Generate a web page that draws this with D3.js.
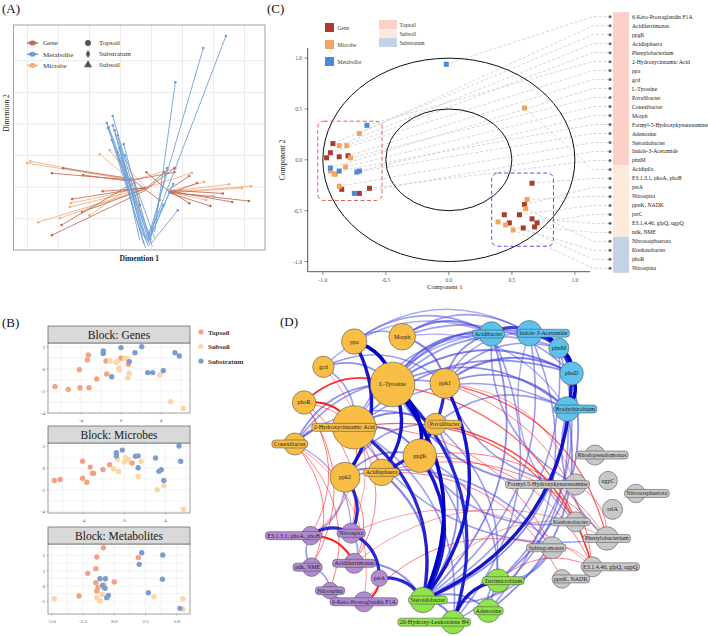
<!DOCTYPE html>
<html><head><meta charset="utf-8">
<script src="https://cdn.jsdelivr.net/npm/d3@7"></script>
<style>body{margin:0;background:#fff}svg{display:block;font-family:"Liberation Serif","Times New Roman",serif}</style>
</head><body><svg id="c" width="708" height="636"></svg>
<script>
// ================= DATA =================
// Panel A: arrow segments [x1,y1,x2,y2] (Dimention 1, Dimention 2)
const geneSegs = [[-3.21,0.44,-0.61,0.22],[-2.85,0.60,-0.55,0.25],[-2.21,0.38,-0.65,0.18],[-1.57,-0.13,-0.16,-0.03],[-2.24,-0.79,-0.20,-0.05],[-2.56,-0.38,-0.12,0.0],[-3.21,-1.52,-0.18,-0.10],[-2.9,-1.2,-0.55,0.15],[3.14,-0.44,0.58,-0.16],[2.60,-0.47,0.55,-0.12],[1.47,0.13,0.60,-0.20],[1.22,0.35,0.52,-0.10],[1.22,-0.51,0.62,-0.14],[0.74,0.47,-0.61,0.22],[0.42,0.47,-0.16,-0.03],[-0.16,0.47,0.58,-0.16],[-0.38,-0.57,-0.58,0.20],[0.26,-0.41,-0.62,0.24],[0.74,0.60,-0.14,-0.05],[1.9,-0.6,0.56,-0.18],[2.3,-0.2,0.6,-0.1]];
const microbeSegs = [[-4.01,0.76,-0.61,0.22],[-3.91,0.82,-0.58,0.2],[-1.67,1.04,-0.64,0.2],[-2.63,-0.63,-0.16,-0.03],[-2.60,-0.51,-0.2,0.0],[-3.65,-1.11,-0.14,-0.05],[-2.95,-0.98,-0.18,-0.02],[-1.35,1.17,-0.6,0.24],[3.21,0.03,0.58,-0.16],[2.50,0.09,0.56,-0.14],[2.92,-0.03,0.6,-0.18],[1.76,-0.41,0.55,-0.15],[1.70,0.16,0.62,-0.12],[2.02,-0.28,0.57,-0.2],[0.77,0.60,-0.61,0.22],[-1.03,0.85,-0.16,-0.03],[-2.0,-0.9,-0.5,0.15],[1.3,0.45,-0.1,0.0]];
const metabSegs = [[2.40,4.78,-0.06,-1.52],[1.67,4.40,-0.13,-1.68],[0.77,3.32,0.10,-1.42],[-1.25,2.25,-0.06,-1.84],[-1.44,2.03,-0.16,-1.74],[-1.38,1.90,0.0,-1.68],[-1.25,1.96,-0.22,-1.61],[-1.19,1.80,-0.1,-1.87],[-0.90,1.36,-0.03,-1.77],[-1.09,1.65,-0.29,-1.55],[-1.28,1.49,-0.19,-1.93],[-1.41,1.87,0.03,-1.87],[-1.03,1.23,-0.38,-1.68],[-0.86,1.01,0.10,-1.61],[-1.1,1.1,-0.25,-1.8],[0.58,-0.16,-0.03,-1.58],[0.85,-0.73,0.0,-1.77],[0.38,-0.57,-0.19,-1.61],[0.7,0.1,-0.1,-1.7],[0.5,0.6,-0.05,-1.65]];
const blockNames = ["Gene","Metabolite","Microbe"];
const layerNames = ["Topsoil","Substratum","Subsoil"];

// Panel B: sample scores [x,y]
const genesTop = [[-6.6,-1.6],[-5.27,-1.85],[-4.1,-1.7],[-3.2,-1.7],[-2.43,-0.9],[-4.17,-0.06],[-3.27,1.27],[-3.37,0.82],[-1.5,0.73],[-1.43,-0.45],[0,0.97],[0.73,0.42]];
const genesSub = [[-1.1,0.73],[-0.5,0.6],[-0.37,0.67],[-0.2,0.12],[-0.2,-0.09],[0.67,-0.79],[0.83,-0.39],[0.4,0.97],[3.9,-0.55],[4.97,-2.97],[6.23,-3.58],[0.67,0.9]];
const genesStr = [[-1.77,1.64],[-1.77,1.4],[0,1.94],[0.83,0.67],[1.4,1.48],[2.07,2.03],[-0.93,-0.7],[2.67,-0.33],[3.17,-0.33],[4.23,-0.15],[5.4,1.48],[5.83,1.18]];
const microTop = [[-6.83,-1.14],[-6.27,-1.05],[-4.08,0.62],[-4.08,-0.93],[-3.66,-1.3],[-3.33,0.09],[-3.1,-0.47],[-3.0,-0.5],[-2.09,-0.12],[-1.44,0.31],[0.75,0.47]];
const microSub = [[-1.05,-0.06],[-0.56,-0.31],[-0.65,0.78],[0.1,0.97],[0,0.56],[0.42,0.78],[1.63,0.62],[1.34,-0.77],[3.2,-1.98],[3.85,-1.61],[5.75,-3.78]];
const microStr = [[-0.78,1.4],[-0.78,1.11],[-0.2,1.65],[1.08,1.09],[1.34,1.12],[1.34,0.03],[3.04,0.93],[3.37,-0.3],[3.6,-0.15],[3.85,-1.14],[5.33,2.02],[5.49,0.62]];
const metabTop = [[-0.87,2.5],[-1.4,1.9],[-1.48,1.13],[-2.12,0.83],[-1.48,0.22],[-1.4,-0.33],[-1.3,-0.1],[-2.82,-0.65],[0,0.26],[1.93,1.85]];
const metabSub = [[-4.79,-0.83],[-1.4,-0.76],[-1.14,-0.98],[-0.95,-0.54],[-1.0,-0.05],[-0.8,0.1],[3.18,-0.7],[5.48,-0.83],[5.48,-1.52]];
const metabStr = [[-1.14,0.48],[-0.71,0.48],[-0.92,0.04],[-0.74,-0.15],[-0.47,-0.61],[-0.6,-0.76],[2.2,2.18],[2.0,1.42],[3.88,2.03],[3.85,0.44],[2.73,-0.44],[5.26,-1.46]];
const bLayers = ["Topsoil","Subsoil","Substratum"];

// Panel C: correlation circle
const compLabels = ["6-Keto-Prostaglandin F1A","Acidiferrimonas","ppgK","Acidisphaera","Phenylobacterium","2-Hydroxycinnamic Acid","ppa","gcd","L-Tyrosine","Povalibacter","Conexibacter","Morph","Formyl-5-Hydroxykynurenamine","Adenosine","Steroidobacter","Indole-3-Acetamide","phnM","Acidipila","E3.1.3.1, phoA, phoB","pstA","Nitrospira","ppnK, NADK","pstC","E3.1.4.46, glpQ, ugpQ","ndk, NME","Nitrososphaerota","Ktedonobacter","phoR","Nitrospina"];
const compLayer = ["Topsoil","Topsoil","Topsoil","Topsoil","Topsoil","Topsoil","Topsoil","Topsoil","Topsoil","Topsoil","Topsoil","Topsoil","Topsoil","Topsoil","Topsoil","Topsoil","Topsoil","Subsoil","Subsoil","Subsoil","Subsoil","Subsoil","Subsoil","Subsoil","Subsoil","Substratum","Substratum","Substratum","Substratum"];
const compType = ["Metabolite","Microbe","Gene","Microbe","Microbe","Metabolite","Gene","Gene","Metabolite","Microbe","Microbe","Metabolite","Metabolite","Metabolite","Microbe","Metabolite","Gene","Microbe","Gene","Gene","Microbe","Gene","Gene","Gene","Gene","Microbe","Microbe","Gene","Microbe"];
const comp1 = [-0.02,-0.71,-0.92,-0.87,-0.81,-0.65,-0.94,-0.80,-0.94,-0.78,-0.82,-0.71,-0.87,-0.73,-0.87,-0.75,-0.63,0.60,0.66,0.60,0.62,0.56,0.70,0.66,0.68,0.61,0.39,0.59,0.51];
const comp2 = [0.94,0.26,0.16,0.14,0.14,0.34,0.07,0.04,-0.08,0.02,-0.07,-0.11,-0.11,-0.12,-0.26,-0.33,-0.28,0.51,-0.23,-0.44,-0.39,-0.54,-0.62,-0.58,-0.66,-0.48,-0.61,-0.67,-0.69];
const extraType = ["Microbe","Microbe","Microbe","Gene","Gene","Gene","Gene","Gene","Gene","Microbe"];
const extra1 = [-0.94,-0.91,-0.90,-0.87,-0.97,-0.85,-0.71,0.44,0.48,0.45];
const extra2 = [-0.11,-0.14,-0.14,0.03,0.02,-0.29,-0.33,-0.54,-0.62,-0.64];
const compTicks = [-1.0,-0.5,0.0,0.5,1.0];
const clusterBoxes = [{x0:-1.04,x1:-0.53,y0:-0.40,y1:0.38,color:"#E06060"},{x0:0.34,x1:0.83,y0:-0.85,y1:-0.13,color:"#5555EE"}];

// Panel D: network nodes [id, label, group, layoutX, layoutY, degree]
const netNodes = [
 ["ppa","ppa","o",19.6,14.9,16.2],["Morph","Morph","o",30.5,13.5,17.8],["gcd","gcd","o",12.6,22.2,11.5],
 ["LTyr","L-Tyrosine","o",28.3,27.3,50],["ppk1","ppk1","o",40.2,27.0,22.6],["phoR","phoR","o",8.2,32.5,13.8],
 ["HCA","2-Hydroxycinnamic Acid","o",19.6,39.7,47.3],["Poval","Povalibacter","o",38.1,38.8,12.2],["Conex","Conexibacter","o",6.1,44.5,12.2],
 ["ppgK","ppgK","o",34.5,47.9,28.0],["Acidis","Acidisphaera","o",25.8,52.7,17.8],["ppk2","ppk2","o",17.5,54.1,22.6],
 ["Acidib","Acidibacter","b",50.8,12.7,15.2],["Indole","Indole-3-Acetamide","b",59.4,12.5,16.2],["phnM","phnM","b",66.1,16.8,10.1],
 ["phoD","phoD","b",69.0,24.1,13.8],["Brady","Bradyrhizobium","b",68.0,34.4,15.2],
 ["Rhodo","Rhodopseudomonas","g",74.3,47.7,10.1],["Formyl","Formyl-5-Hydroxykynurenamine","g",69.9,56.2,11.5],["ugpC","ugpC","g",77.3,55.1,8.7],
 ["Nitrosos","Nitrososphaerota","g",83.6,58.8,8.7],["relA","relA","g",78.3,63.4,10.1],["Kted","Ktedonobacter","g",69.9,67.0,10.1],
 ["Phenyl","Phenylobacterium","g",77.0,71.8,13.8],["Sphingo","Sphingomonas","g",64.6,74.5,12.2],["E3146","E3.1.4.46, glpQ, ugpQ","g",73.7,80.0,10.1],
 ["ppnK","ppnK, NADK","g",66.8,83.5,8.7],
 ["Terri","Terrimicrobium","l",52.3,84.0,13.8],["Adeno","Adenosine","l",50.1,92.7,13.8],["Steroid","Steroidobacter","l",35.2,89.6,16.2],
 ["HLB4","20-Hydroxy-Leukotriene B4","l",42.1,96.0,13.8],
 ["E3131","E3.1.3.1, phoA, phoB","p",9.7,71.0,8.7],["Nitrospira","Nitrospira","p",18.9,70.3,10.1],["ndk","ndk, NME","p",9.9,80.1,8.7],
 ["Acidif","Acidiferrimonas","p",19.6,79.0,10.1],["pstA","pstA","p",25.3,83.3,6.9],["Nitrospina","Nitrospina","p",14.1,86.9,6.9],
 ["Keto","6-Keto-Prostaglandin F1A","p",21.8,90.1,10.1]
];
// edges [source, target, correlation]
const netEdges = [
 ["ppa","LTyr",0.95],["ppa","ppk2",0.9],["LTyr","ppgK",0.95],["LTyr","Steroid",0.95],["ppk1","Steroid",0.9],["ppgK","Steroid",0.9],
 ["HCA","Steroid",0.85],["ppk2","Nitrospira",0.85],["Nitrospira","pstA",0.85],["pstA","Steroid",0.85],["E3131","Nitrospira",0.85],
 ["Indole","phnM",0.95],["phnM","phoD",0.95],["phoD","Brady",0.95],["Indole","phoD",0.85],["phoD","Steroid",0.9],["HLB4","Terri",0.9],
 ["ppk1","Acidis",0.85],["LTyr","Acidis",0.9],["Acidib","Indole",0.8],["LTyr","HLB4",0.85],
 ["LTyr","Acidib",0.6],["LTyr","Indole",0.55],["LTyr","phnM",0.5],["LTyr","phoD",0.6],["LTyr","Brady",0.55],
 ["Morph","Acidib",0.6],["Morph","Indole",0.5],["Morph","ppk1",0.6],["Morph","phoD",0.5],["ppa","Morph",0.5],
 ["ppk1","Acidib",0.55],["ppk1","phoD",0.6],["ppk1","Brady",0.55],["ppk1","Indole",0.5],["ppk1","phnM",0.5],
 ["gcd","LTyr",0.55],["gcd","HCA",0.5],["gcd","ppk1",0.5],
 ["HCA","Poval",0.6],["HCA","Acidib",0.5],["HCA","phoD",0.55],["HCA","ppgK",0.6],["HCA","Brady",0.5],
 ["Conex","HCA",0.6],["Conex","LTyr",0.55],["Conex","ppk1",0.5],["Conex","Poval",0.5],
 ["ppk2","Acidis",0.6],["ppk2","ppgK",0.55],["ppk2","Poval",0.5],["ppk2","Sphingo",0.5],
 ["Acidib","Steroid",0.55],["Indole","Steroid",0.5],["phoD","Terri",0.55],["Brady","Adeno",0.55],["Brady","HLB4",0.5],["Indole","Adeno",0.5],
 ["phnM","Terri",0.5],["Acidib","HLB4",0.5],["phnM","Steroid",0.5],["Brady","Steroid",0.55],
 ["Poval","Steroid",0.55],["Poval","Adeno",0.5],["Poval","Brady",0.5],
 ["Formyl","LTyr",0.55],["Formyl","ppk1",0.5],["Kted","ppgK",0.5],["Phenyl","Brady",0.5],["Sphingo","Steroid",0.5],["Phenyl","HCA",0.5],
 ["Sphingo","Terri",0.5],["Formyl","Acidib",0.5],["Kted","Indole",0.45],
 ["Steroid","HLB4",0.6],["Steroid","Adeno",0.55],["Adeno","Terri",0.5],
 ["Acidif","Steroid",0.55],["Keto","Nitrospina",0.5],["ndk","Nitrospina",0.5],["ndk","E3131",0.5],["Nitrospira","Acidif",0.5],
 ["ppk2","E3131",0.5],["Conex","Nitrospira",0.45],["Acidis","Steroid",0.6],["ppgK","Terri",0.5],["ppgK","HLB4",0.5],["HCA","HLB4",0.5],
 ["ppa","Acidib",0.5],["ppa","Indole",0.45],["Morph","Brady",0.45],["gcd","Acidib",0.45],["HCA","Indole",0.45],
 ["phoR","HCA",-0.9],["phoR","LTyr",-0.8],["phoR","Acidis",-0.5],["phoR","E3131",-0.5],["phoR","ndk",-0.5],
 ["Conex","ndk",-0.5],["Conex","Nitrospina",-0.5],["Conex","Keto",-0.45],["gcd","Nitrospira",-0.45],
 ["E3131","Acidif",-0.9],["pstA","Keto",-0.9],
 ["LTyr","E3146",-0.6],["ppk1","Phenyl",-0.6],["ppk1","E3146",-0.5],["HCA","Kted",-0.6],["HCA","Sphingo",-0.5],["Poval","E3146",-0.7],
 ["ppgK","Phenyl",-0.5],["Terri","E3146",-0.5],["Acidis","ppnK",-0.5],["Steroid","Kted",-0.45],["HCA","Acidif",-0.5],["Keto","Sphingo",-0.5],
 ["Acidif","Phenyl",-0.45],["Nitrospira","E3146",-0.45],["ppk2","Acidif",-0.5],["HCA","E3131",-0.5],["phoR","Nitrospira",-0.5],
 ["Formyl","Phenyl",-0.5],["Sphingo","E3146",-0.45],["ppk1","Formyl",-0.45],["Acidis","Phenyl",-0.5],["ppgK","E3146",-0.5]
];

// ================= DRAW =================
const svg = d3.select("#c");
function label(t,x,y,size){svg.append("text").attr("x",x).attr("y",y).attr("font-size",size).attr("fill","#111").text(t);}
label("(A)",2,13,13); label("(C)",267,13,13); label("(B)",2,327,13); label("(D)",280,326,13);

// ---------- Panel A ----------
(function(){
 const L=13.5,R=265,T=25,B=250;
 const x=d3.scaleLinear().domain([-4.45,3.66]).range([L,R]);
 const y=d3.scaleLinear().domain([-1.99,5.13]).range([B,T]);
 const g=svg.append("g");
 g.selectAll(".vg").data(d3.range(-4,4)).join("line").attr("x1",d=>x(d)).attr("x2",d=>x(d)).attr("y1",T).attr("y2",B).attr("stroke","#e6e6e6").attr("stroke-width",0.8);
 g.selectAll(".hg").data(d3.range(-1,5)).join("line").attr("y1",d=>y(d)).attr("y2",d=>y(d)).attr("x1",L).attr("x2",R).attr("stroke","#e6e6e6").attr("stroke-width",0.8);
 const col={Gene:"#C26B5A",Metabolite:"#6A9FD6",Microbe:"#F3B07F"};
 [["Microbe",microbeSegs],["Gene",geneSegs],["Metabolite",metabSegs]].forEach(([k,segs])=>{
  g.append("g").selectAll("line").data(segs).join("line")
   .attr("x1",d=>x(d[0])).attr("y1",d=>y(d[1])).attr("x2",d=>x(d[2])).attr("y2",d=>y(d[3]))
   .attr("stroke",col[k]).attr("stroke-width",1).attr("opacity",0.85);
  g.append("g").selectAll("circle").data(segs).join("circle").attr("cx",d=>x(d[0])).attr("cy",d=>y(d[1])).attr("r",1.3).attr("fill",col[k]);
 });
 g.append("rect").attr("x",L).attr("y",T).attr("width",R-L).attr("height",B-T).attr("fill","none").attr("stroke","#8a8a8a").attr("stroke-width",0.8);
 const ly=d3.scalePoint().domain(blockNames).range([43,65.5]);
 blockNames.forEach(n=>{
  g.append("line").attr("x1",27).attr("x2",38).attr("y1",ly(n)).attr("y2",ly(n)).attr("stroke",col[n]).attr("stroke-width",1.5);
  g.append("ellipse").attr("cx",32.5).attr("cy",ly(n)).attr("rx",3.3).attr("ry",2.4).attr("fill",col[n]);
  g.append("text").attr("x",43).attr("y",ly(n)+2.4).attr("font-size",7).attr("fill","#333").text(n);
 });
 const sy=d3.scalePoint().domain(layerNames).range([43,65]);
 const sym={Topsoil:d3.symbolCircle,Substratum:d3.symbolDiamond,Subsoil:d3.symbolTriangle};
 layerNames.forEach(n=>{
  g.append("path").attr("d",d3.symbol(sym[n],n==="Substratum"?18:28)()).attr("transform",`translate(88,${sy(n)})`).attr("fill","#555");
  g.append("text").attr("x",99).attr("y",sy(n)+2.4).attr("font-size",7).attr("fill","#333").text(n);
 });
 g.append("text").attr("x",(L+R)/2).attr("y",261).attr("text-anchor","middle").attr("font-size",7.5).attr("font-weight","bold").attr("fill","#222").text("Dimention 1");
 g.append("text").attr("transform","translate(9,113) rotate(-90)").attr("text-anchor","middle").attr("font-size",7.5).attr("fill","#222").text("Dimention 2");
})();

// ---------- Panel B ----------
const bCol={Topsoil:"#F3A384",Subsoil:"#FCD6A6",Substratum:"#7A9ED2"};
function facet(title,top,xDom,yDom,xT,yT,sets,fmt){
 const L=48,R=190,hB=top+17,pB=hB+70;
 const x=d3.scaleLinear().domain(xDom).range([L,R]);
 const y=d3.scaleLinear().domain(yDom).range([pB,hB]);
 const g=svg.append("g");
 const step=(xT[1]-xT[0])/2, ystep=(yT[0]-yT[1])/2;
 const xm=d3.range(xT[0]-step*4,xT[xT.length-1]+step*4,step).filter(v=>v>xDom[0]&&v<xDom[1]);
 const ym=d3.range(-6,4,ystep).filter(v=>v>yDom[0]&&v<yDom[1]);
 g.selectAll(".a").data(xm).join("line").attr("x1",d=>x(d)).attr("x2",d=>x(d)).attr("y1",hB).attr("y2",pB).attr("stroke","#ececec").attr("stroke-width",0.6);
 g.selectAll(".b").data(ym).join("line").attr("y1",d=>y(d)).attr("y2",d=>y(d)).attr("x1",L).attr("x2",R).attr("stroke","#ececec").attr("stroke-width",0.6);
 bLayers.forEach((k,i)=>{
  g.append("g").selectAll("circle").data(sets[i]).join("circle").attr("cx",d=>x(d[0])).attr("cy",d=>y(d[1])).attr("r",2.7).attr("fill",bCol[k]);
 });
 g.append("rect").attr("x",L).attr("y",hB).attr("width",R-L).attr("height",pB-hB).attr("fill","none").attr("stroke","#777").attr("stroke-width",0.7);
 g.append("rect").attr("x",L).attr("y",top).attr("width",R-L).attr("height",17).attr("fill","#D9D9D9").attr("stroke","#444").attr("stroke-width",0.6);
 g.append("text").attr("x",(L+R)/2).attr("y",top+12.5).attr("text-anchor","middle").attr("font-size",11.5).attr("fill","#1a1a1a").text(title);
 g.selectAll(".xt").data(xT).join("text").attr("x",d=>x(d)).attr("y",pB+9).attr("text-anchor","middle").attr("font-size",5).attr("fill","#555").text(fmt);
 g.selectAll(".yt").data(yT).join("text").attr("x",L-3).attr("y",d=>y(d)+1.8).attr("text-anchor","end").attr("font-size",5).attr("fill","#555").text(d=>String(d));
 g.selectAll(".tk").data(yT).join("line").attr("x1",L-1.5).attr("x2",L).attr("y1",d=>y(d)).attr("y2",d=>y(d)).attr("stroke","#777").attr("stroke-width",0.5);
 g.selectAll(".tx").data(xT).join("line").attr("y1",pB).attr("y2",pB+1.5).attr("x1",d=>x(d)).attr("x2",d=>x(d)).attr("stroke","#777").attr("stroke-width",0.5);
}
facet("Block: Genes",326,[-7.3,6.9],[-4,2.36],[-4,0,4],[2,0,-2,-4],[genesTop,genesSub,genesStr],d=>String(d));
facet("Block: Microbes",426,[-7.45,6.4],[-4.12,2.30],[-4,0,4],[2,0,-2,-4],[microTop,microSub,microStr],d=>String(d));
facet("Block: Metabolites",527,[-5.3,6.06],[-1.83,2.75],[-5,-2.5,0,2.5,5],[2,1,0,-1],[metabTop,metabSub,metabStr],d=>d.toFixed(1));
(function(){
 const ly=d3.scalePoint().domain(["Topsoil","Subsoil","Substratum"]).range([332,361]);
 ["Topsoil","Subsoil","Substratum"].forEach(k=>{
  svg.append("circle").attr("cx",201).attr("cy",ly(k)).attr("r",2.6).attr("fill",bCol[k]);
  svg.append("text").attr("x",208).attr("y",ly(k)+2.5).attr("font-size",7).attr("font-weight","bold").attr("fill","#333").text(k);
 });
})();

// ---------- Panel C ----------
(function(){
 const x=d3.scaleLinear().domain([-1.12,1.12]).range([307.7,590]);
 const y=d3.scaleLinear().domain([-1.10,1.10]).range([271.7,48]);
 const g=svg.append("g");
 const tCol={Gene:"#A83D2E",Microbe:"#F4A45C",Metabolite:"#4A8AD6"};
 const lCol={Topsoil:"#F9D1C6",Subsoil:"#FDEADD",Substratum:"#C4D2E7"};
 const ly=d3.scalePoint().domain(compLabels).range([16.7,268.3]);
 ["Topsoil","Subsoil","Substratum"].forEach(k=>{
  const ids=compLabels.filter((d,i)=>compLayer[i]===k);
  const y0=ly(ids[0])-4.5, y1=ly(ids[ids.length-1])+4.5;
  g.append("rect").attr("x",613).attr("y",y0).attr("width",16).attr("height",y1-y0).attr("fill",lCol[k]);
 });
 g.append("g").selectAll("path").data(compLabels).join("path")
  .attr("d",(d,i)=>`M${x(comp1[i])},${y(comp2[i])}L593,${ly(d)}L609,${ly(d)}`)
  .attr("fill","none").attr("stroke","#c4c4c4").attr("stroke-width",0.7).attr("stroke-dasharray","3,2");
 g.append("g").selectAll("circle").data(compLabels).join("circle").attr("cx",610).attr("cy",d=>ly(d)).attr("r",1.5).attr("fill","#666");
 g.append("g").selectAll("text").data(compLabels).join("text").attr("x",632).attr("y",d=>ly(d)+2).attr("font-size",5.7).attr("fill","#222").text(d=>d);
 [1,0.5].forEach(r=>g.append("ellipse").attr("cx",x(0)).attr("cy",y(0)).attr("rx",x(r)-x(0)).attr("ry",y(0)-y(r)).attr("fill","none").attr("stroke","#111").attr("stroke-width",1));
 clusterBoxes.forEach(b=>g.append("rect").attr("x",x(b.x0)).attr("y",y(b.y1)).attr("width",x(b.x1)-x(b.x0)).attr("height",y(b.y0)-y(b.y1)).attr("rx",6).attr("fill","none").attr("stroke",b.color).attr("stroke-width",1).attr("stroke-dasharray","4,2.5"));
 g.append("g").selectAll("rect").data(extraType).join("rect").attr("x",(d,i)=>x(extra1[i])-2.5).attr("y",(d,i)=>y(extra2[i])-2.5).attr("width",5).attr("height",5).attr("fill",d=>tCol[d]);
 g.append("g").selectAll("rect").data(compType).join("rect").attr("x",(d,i)=>x(comp1[i])-2.5).attr("y",(d,i)=>y(comp2[i])-2.5).attr("width",5).attr("height",5).attr("fill",d=>tCol[d]);
 g.append("line").attr("x1",307.7).attr("x2",307.7).attr("y1",48).attr("y2",271.7).attr("stroke","#555").attr("stroke-width",1);
 g.append("line").attr("x1",307.7).attr("x2",590).attr("y1",271.7).attr("y2",271.7).attr("stroke","#555").attr("stroke-width",1);
 compTicks.forEach(t=>{
  g.append("line").attr("x1",304.5).attr("x2",307.7).attr("y1",y(t)).attr("y2",y(t)).attr("stroke","#555").attr("stroke-width",0.7);
  g.append("text").attr("x",302).attr("y",y(t)+2).attr("text-anchor","end").attr("font-size",5.5).attr("fill","#555").text(t.toFixed(1));
  g.append("line").attr("x1",x(t)).attr("x2",x(t)).attr("y1",271.7).attr("y2",275).attr("stroke","#555").attr("stroke-width",0.7);
  g.append("text").attr("x",x(t)).attr("y",281.5).attr("text-anchor","middle").attr("font-size",5.5).attr("fill","#555").text(t.toFixed(1));
 });
 g.append("text").attr("x",x(0)-4).attr("y",289).attr("text-anchor","middle").attr("font-size",6.5).attr("fill","#222").text("Component 1");
 g.append("text").attr("transform",`translate(285,${y(0)}) rotate(-90)`).attr("text-anchor","middle").attr("font-size",7.5).attr("fill","#222").text("Component  2");
 const ty=d3.scalePoint().domain(["Gene","Microbe","Metabolite"]).range([27.5,61.5]);
 ["Gene","Microbe","Metabolite"].forEach(k=>{
  g.append("rect").attr("x",325).attr("y",ty(k)-4.5).attr("width",9).attr("height",9).attr("fill",tCol[k]);
  g.append("text").attr("x",337.5).attr("y",ty(k)+2).attr("font-size",5.5).attr("fill","#333").text(k);
 });
 const sy=d3.scalePoint().domain(["Topsoil","Subsoil","Substratum"]).range([24.5,42.5]);
 ["Topsoil","Subsoil","Substratum"].forEach(k=>{
  g.append("rect").attr("x",379).attr("y",sy(k)-4.5).attr("width",18).attr("height",9).attr("fill",lCol[k]);
  g.append("text").attr("x",399.5).attr("y",sy(k)+2).attr("font-size",5.5).attr("fill","#333").text(k);
 });
})();

// ---------- Panel D ----------
(function(){
 const x=d3.scaleLinear().domain([0,100]).range([268,708]);
 const y=d3.scaleLinear().domain([0,100]).range([290,636]);
 const rs=d3.scaleSqrt().domain([0,50]).range([0,22.3]);
 const gCol={o:"#F8BD44",b:"#5CC1EC",g:"#C8C8C8",l:"#90E54A",p:"#B28BD3"};
 const labelDx={HCA:-10,Poval:9,Conex:-5,Indole:14,Brady:8,Rhodo:7,Formyl:-28,Nitrosos:11,E3146:18,ppnK:9,Kted:-5,Sphingo:-6,Terri:5,Steroid:5,HLB4:-19,E3131:-17,ndk:-4,Acidib:-3};
 const byId={}; netNodes.forEach(n=>byId[n[0]]=n);
 const g=svg.append("g");
 const edges=netEdges.slice().sort((a,b)=>Math.abs(a[2])-Math.abs(b[2]));
 const posW=d3.scaleLinear().domain([0.45,0.95]).range([1.4,3.6]);
 const posO=d3.scaleLinear().domain([0.45,0.95]).range([0.5,1]);
 const posC=d3.scaleLinear().domain([0.45,0.95]).range(["#5858E6","#0000C8"]);
 const negW=d3.scaleLinear().domain([0.45,0.9]).range([0.8,2]);
 const negO=d3.scaleLinear().domain([0.45,0.9]).range([0.55,1]);
 g.append("g").selectAll("path").data(edges).join("path")
  .attr("d",e=>{const s=byId[e[0]],t=byId[e[1]];const x1=x(s[3]),y1=y(s[4]),x2=x(t[3]),y2=y(t[4]);
   const dx=x2-x1,dy=y2-y1,c=0.32;return `M${x1},${y1}Q${(x1+x2)/2+c*dy},${(y1+y2)/2-c*dx} ${x2},${y2}`;})
  .attr("fill","none")
  .attr("stroke",e=>e[2]>0?posC(e[2]):"#FF1A1A")
  .attr("stroke-width",e=>e[2]>0?posW(e[2]):negW(-e[2]))
  .attr("stroke-opacity",e=>e[2]>0?posO(e[2]):negO(-e[2]));
 const ng=g.append("g").selectAll("g").data(netNodes).join("g").attr("transform",n=>`translate(${x(n[3])},${y(n[4])})`);
 ng.append("circle").attr("r",n=>rs(n[5])).attr("fill",n=>gCol[n[2]]).attr("stroke","#555").attr("stroke-width",0.6);
 ng.each(function(n){
  const el=d3.select(this);
  const dx=labelDx[n[0]]||0;
  const t=el.append("text").attr("text-anchor","middle").attr("x",dx).attr("y",2).attr("font-size",6).attr("fill","#222").text(n[1]);
  const w=t.node().getComputedTextLength();
  if(w>2*rs(n[5])-3){
   el.insert("rect","text").attr("x",dx-w/2-2).attr("y",-4).attr("width",w+4).attr("height",8).attr("rx",3.5).attr("fill",gCol[n[2]]).attr("stroke","#444").attr("stroke-width",0.5);
  }
 });
})();
</script></body></html>
